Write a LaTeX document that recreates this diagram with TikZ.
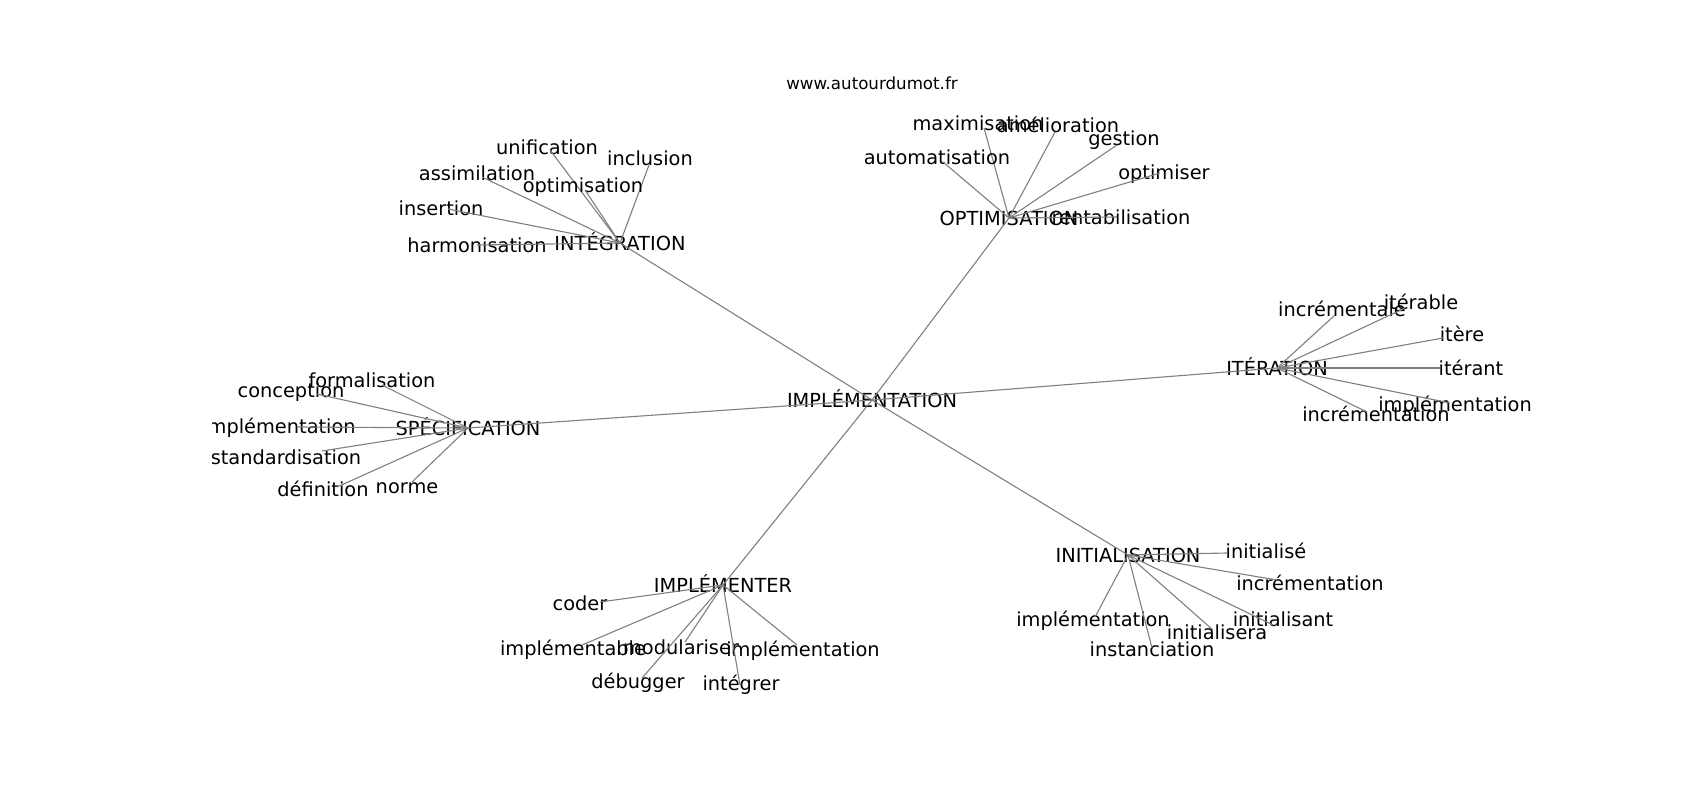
\documentclass[tikz,border=0pt]{standalone}
\usepackage{fontspec}
\setmainfont{DejaVu Sans}

\begin{document}
\begin{tikzpicture}[x=0.72pt, y=-0.72pt,
	edge/.style={draw=gray, line width=0.8pt},
	word/.style={font=\fontsize{13.95}{16}\selectfont, inner sep=0pt,
		text height=10.2pt, text depth=0pt}]
\useasboundingbox (0,0) rectangle (1700,800);
\node[font=\fontsize{12}{14}\selectfont, inner sep=0pt] (site) at (872,83)
	{www.autourdumot.fr};
\clip (212.5,96) rectangle (1530,712);
\node[word] (impl) at (872,400) {IMPLÉMENTATION};
\foreach \n/\x/\y/\t in {integ/620/243/INTÉGRATION, optim/1009/218/OPTIMISATION,
	iter/1277/368/ITÉRATION, spec/468/428/SPÉCIFICATION,
	implr/723/585/IMPLÉMENTER, init/1128/555/INITIALISATION} {
	\node[word] (\n) at (\x,\y) {\t};
	\draw[edge] (impl.center) -- (\n.center);
}
\foreach \h/\n/\ex/\ey/\tx/\ty/\t in {
	integ/unif/550/150/547/147/unification,
	integ/incl/649/165/650/158/inclusion,
	integ/assim/482/177/477/173/assimilation,
	integ/optis/585/190/583/185/optimisation,
	integ/inser/448/209/441/208/insertion,
	integ/harmo/477/245/477/245/harmonisation,
	optim/maxi/984/128/978/123/maximisation,
	optim/amel/1055/132/1058/125/amélioration,
	optim/gest/1117/145/1124/138/gestion,
	optim/auto/943/162/937/157/automatisation,
	optim/optr/1160/173/1164/172/optimiser,
	optim/rent/1117/217/1121/217/rentabilisation,
	spec/form/382/385/372/380/formalisation,
	spec/conc/317/394/291/390/conception,
	spec/impm/298/427/279/426/implémentation,
	spec/stan/322/451/286/457/standardisation,
	spec/defi/337/487/323/489/définition,
	spec/norm/412/482/407/486/norme,
	iter/incl/1335/315/1342/309/incrémentale,
	iter/itbl/1405/308/1421/302/itérable,
	iter/itre/1443/338/1462/334/itère,
	iter/itrt/1440/368/1471/368/itérant,
	iter/impm/1450/403/1455/404/implémentation,
	iter/incn/1367/412/1376/414/incrémentation,
	implr/code/600/602/580/603/coder,
	implr/impb/582/645/573/648/implémentable,
	implr/modu/685/642/681/647/modulariser,
	implr/impm/797/645/803/649/implémentation,
	implr/debu/642/678/638/681/débugger,
	implr/intg/740/685/741/683/intégrer,
	init/inse/1227/553/1266/551/initialisé,
	init/incn/1277/580/1310/583/incrémentation,
	init/inst/1273/625/1283/619/initialisant,
	init/insr/1213/630/1217/632/initialisera,
	init/impm/1095/617/1093/619/implémentation,
	init/inct/1152/648/1152/649/instanciation} {
	\coordinate (\h-\n) at (\ex,\ey);
	\node[word] (\h-\n-w) at (\tx,\ty) {\t};
	\draw[edge] (\h.center) -- (\h-\n);
}
\end{tikzpicture}
\end{document}
